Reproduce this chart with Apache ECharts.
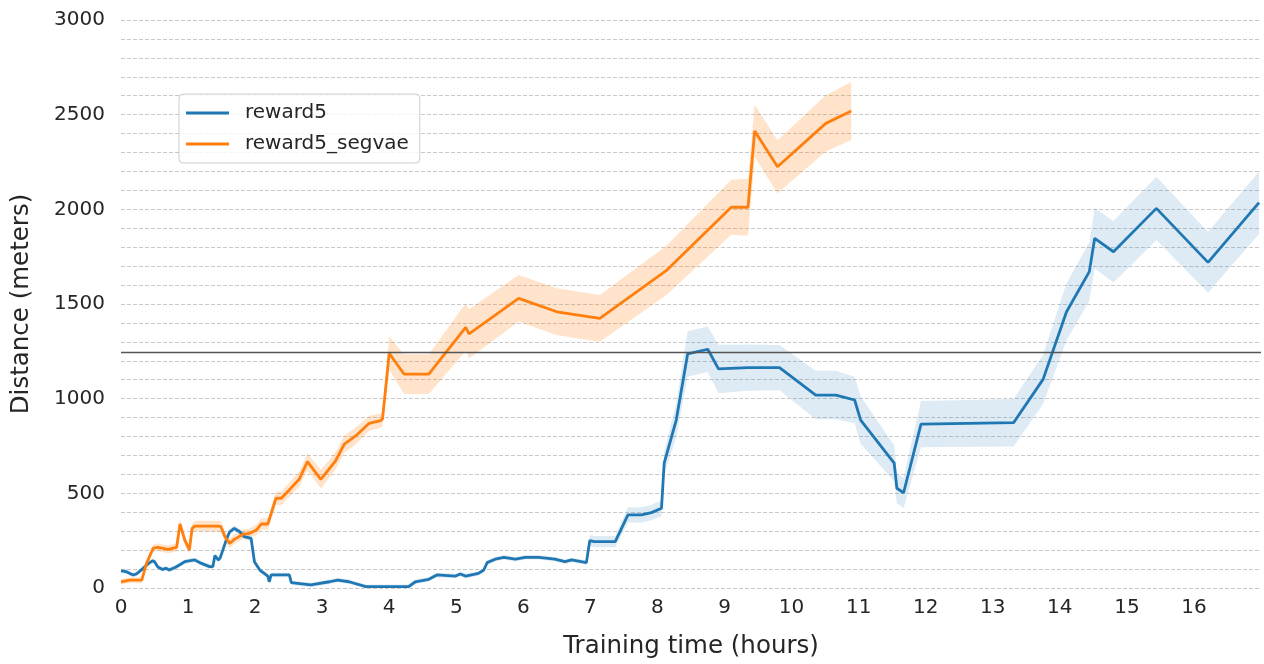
<!DOCTYPE html>
<html>
<head>
<meta charset="utf-8">
<script src="https://cdn.jsdelivr.net/npm/echarts@6/dist/echarts.min.js"></script>
<style>
  html, body { margin: 0; padding: 0; background: #ffffff; }
  #chart { width: 1264px; height: 664px; }
</style>
</head>
<body>
<div id="chart"></div>
<script>
// ---- data ----
const seriesNames = ['reward5', 'reward5_segvae'];

// reward5 : time (hours), mean distance (m), half-width of the shaded band (m)
const blueT  = [0.00, 0.08, 0.18, 0.23, 0.33, 0.41, 0.47, 0.50, 0.55, 0.62, 0.67, 0.72, 0.82, 0.95, 1.10, 1.20, 1.32, 1.37, 1.40, 1.45, 1.48, 1.57, 1.62, 1.69, 1.77, 1.84, 1.94, 1.99, 2.07, 2.19, 2.21, 2.24, 2.51, 2.54, 2.83, 3.11, 3.23, 3.40, 3.65, 4.29, 4.39, 4.59, 4.71, 4.99, 5.06, 5.14, 5.33, 5.41, 5.46, 5.58, 5.71, 5.88, 6.03, 6.23, 6.47, 6.62, 6.72, 6.94, 6.99, 7.06, 7.37, 7.56, 7.76, 7.91, 8.06, 8.10, 8.28, 8.45, 8.75, 8.91, 9.35, 9.82, 10.36, 10.66, 10.94, 11.03, 11.53, 11.57, 11.67, 11.93, 13.31, 13.75, 14.10, 14.44, 14.52, 14.80, 15.44, 16.21, 16.97];
const blueY  = [90, 86, 69, 74, 104, 130, 143, 139, 111, 98, 104, 95, 111, 139, 148, 130, 113, 113, 171, 148, 160, 254, 297, 315, 297, 271, 262, 139, 95, 63, 33, 69, 69, 28, 16, 33, 42, 33, 7, 7, 33, 46, 69, 63, 74, 63, 77, 95, 134, 152, 162, 152, 162, 162, 152, 139, 148, 134, 250, 245, 245, 386, 386, 398, 421, 659, 887, 1236, 1261, 1157, 1164, 1164, 1019, 1019, 993, 887, 659, 527, 503, 866, 873, 1102, 1459, 1671, 1847, 1776, 2005, 1720, 2035];
const blueCI = [12, 12, 12, 12, 12, 14, 14, 14, 12, 12, 12, 12, 12, 12, 12, 12, 12, 12, 14, 14, 14, 15, 15, 15, 15, 15, 15, 14, 12, 12, 12, 12, 12, 12, 12, 12, 12, 12, 12, 12, 12, 12, 12, 12, 12, 12, 12, 12, 12, 12, 12, 12, 12, 12, 12, 12, 12, 12, 30, 30, 30, 40, 40, 40, 42, 60, 90, 120, 120, 128, 122, 120, 128, 128, 123, 125, 95, 80, 80, 122, 125, 130, 150, 155, 160, 163, 167, 160, 165];

// reward5_segvae
const orangeT  = [0.00, 0.13, 0.26, 0.31, 0.38, 0.48, 0.55, 0.70, 0.83, 0.88, 0.95, 1.02, 1.06, 1.10, 1.45, 1.49, 1.55, 1.62, 1.69, 1.82, 1.92, 2.02, 2.09, 2.19, 2.31, 2.39, 2.51, 2.66, 2.78, 2.98, 3.20, 3.33, 3.50, 3.70, 3.87, 3.90, 4.00, 4.22, 4.59, 5.14, 5.19, 5.93, 6.50, 7.14, 8.13, 9.10, 9.35, 9.45, 9.79, 10.51, 10.89];
const orangeY  = [33, 42, 42, 42, 130, 210, 215, 204, 215, 338, 254, 201, 315, 327, 327, 324, 271, 236, 257, 284, 289, 306, 338, 338, 474, 474, 518, 576, 667, 574, 672, 760, 803, 870, 884, 893, 1240, 1130, 1130, 1377, 1342, 1530, 1459, 1424, 1676, 2011, 2011, 2414, 2225, 2454, 2519];
const orangeCI = [15, 15, 15, 15, 18, 20, 20, 20, 22, 25, 25, 22, 25, 28, 28, 28, 25, 25, 25, 25, 25, 28, 30, 30, 35, 35, 38, 40, 45, 50, 45, 45, 45, 40, 38, 38, 88, 105, 105, 125, 130, 123, 124, 124, 130, 145, 150, 138, 140, 148, 153];

const refLine = 1245;          // solid horizontal reference line (m)
const xTicksMax = 16;          // last labelled x tick
const yTicks = [0, 500, 1000, 1500, 2000, 2500, 3000];

// ---- build chart ----
const BLUE = '#1f77b4', ORANGE = '#ff7f0e';
const TXT = '#262626';
const FONT = 'DejaVu Sans';

function meanPts(t, y) { return t.map((v, i) => [v, y[i]]); }

// shaded band: a polygon through the upper bound, back along the lower bound,
// every vertex mapped through the chart's own axes with api.coord
function bandSeries(t, y, ci, fill) {
  const rows = t.map((v, i) => [v, Math.max(0, y[i] - ci[i]), y[i] + ci[i]]);
  return {
    type: 'custom', silent: true, z: 1,
    encode: { x: 0, y: [1, 2] },
    data: rows,
    renderItem: function (params, api) {
      if (params.dataIndex !== 0) return null;
      const pts = [];
      for (let i = 0; i < rows.length; i++) pts.push(api.coord([rows[i][0], rows[i][2]]));
      for (let i = rows.length - 1; i >= 0; i--) pts.push(api.coord([rows[i][0], rows[i][1]]));
      return { type: 'polygon', shape: { points: pts }, style: { fill: fill, stroke: null } };
    }
  };
}

const chart = echarts.init(document.getElementById('chart'), null, { renderer: 'canvas' });

const option = {
  animation: false,
  backgroundColor: '#ffffff',
  textStyle: { fontFamily: FONT, color: TXT },
  grid: { left: 121, right: 0, top: 20, bottom: 76, containLabel: false },
  legend: {
    data: seriesNames,
    orient: 'vertical',
    left: 179, top: 94,
    padding: [9, 11, 9, 7],
    icon: 'rect',
    itemWidth: 43, itemHeight: 3, itemGap: 11,
    backgroundColor: 'rgba(255,255,255,0.8)',
    borderColor: '#cccccc', borderWidth: 1, borderRadius: 4,
    textStyle: { fontFamily: FONT, fontSize: 20, color: TXT, padding: [0, 0, 0, 11] }
  },
  xAxis: {
    type: 'value', min: 0, max: 17, interval: 1,
    name: 'Training time (hours)', nameLocation: 'middle', nameGap: 46,
    nameTextStyle: { fontFamily: FONT, fontSize: 24.5, color: TXT },
    axisLine: { show: false }, axisTick: { show: false },
    splitLine: { show: false },
    axisLabel: { fontFamily: FONT, fontSize: 20, color: TXT, margin: 10,
      formatter: v => (v <= xTicksMax ? String(v) : '') }
  },
  yAxis: {
    type: 'value', min: yTicks[0], max: yTicks[yTicks.length - 1], interval: 500,
    name: 'Distance (meters)', nameLocation: 'middle', nameGap: 87,
    nameTextStyle: { fontFamily: FONT, fontSize: 24.5, color: TXT },
    axisLine: { show: false }, axisTick: { show: false },
    axisLabel: { fontFamily: FONT, fontSize: 20, color: TXT, margin: 16,
      formatter: v => String(v) },
    splitLine: { show: true, lineStyle: { color: '#c8c8c8', width: 1, type: [4, 2] } },
    minorTick: { show: false, splitNumber: 5 },
    minorSplitLine: { show: true, lineStyle: { color: '#c8c8c8', width: 1, type: [4, 2] } }
  },
  series: [
    bandSeries(blueT, blueY, blueCI, 'rgba(31,119,180,0.15)'),
    bandSeries(orangeT, orangeY, orangeCI, 'rgba(255,127,14,0.22)'),
    { name: seriesNames[0], type: 'line', data: meanPts(blueT, blueY), symbol: 'none',
      color: BLUE, lineStyle: { color: BLUE, width: 2.8 }, z: 3,
      markLine: { silent: true, symbol: 'none', label: { show: false },
        lineStyle: { color: '#555555', width: 1.3, type: 'solid' },
        data: [{ yAxis: refLine }] } },
    { name: seriesNames[1], type: 'line', data: meanPts(orangeT, orangeY), symbol: 'none',
      color: ORANGE, lineStyle: { color: ORANGE, width: 2.8 }, z: 4 }
  ]
};
chart.setOption(option);
</script>
</body>
</html>
